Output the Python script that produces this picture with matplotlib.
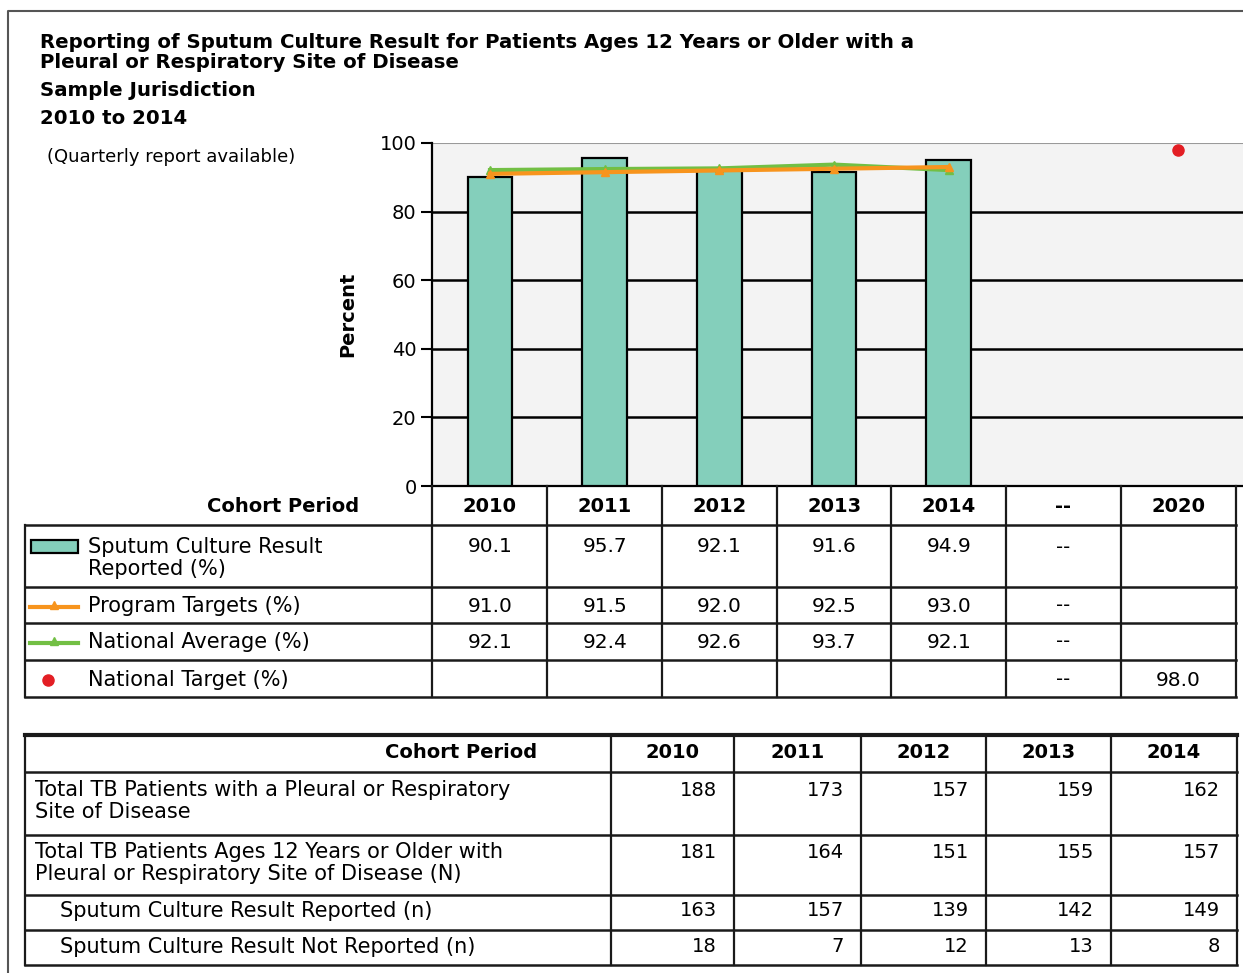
import numpy as np
import matplotlib.pyplot as plt
import matplotlib.transforms as mtransforms
from matplotlib.patches import Rectangle

plt.rcParams['font.family'] = ['DejaVu Sans']

# chart data
periods = ['2010', '2011', '2012', '2013', '2014', '--', '2020']
reported_pct = [90.1, 95.7, 92.1, 91.6, 94.9]
program_targets = [91.0, 91.5, 92.0, 92.5, 93.0]
national_avg = [92.1, 92.4, 92.6, 93.7, 92.1]
national_target = 98.0

# lower table data
cohort_years = ['2010', '2011', '2012', '2013', '2014']
total_pleural_resp = [188, 173, 157, 159, 162]
total_12_older = [181, 164, 151, 155, 157]
culture_reported = [163, 157, 139, 142, 149]
culture_not_reported = [18, 7, 12, 13, 8]

TEAL = '#84cfbb'
ORANGE = '#f7941d'
GREEN = '#72bf44'
RED = '#e31e24'
FS = 14      # bold headers / numbers
LS = 15      # row labels
TS = 14.2    # title size

W, H = 1243, 973
fig = plt.figure(figsize=(W / 100, H / 100), dpi=100)

# ---- bar chart ----
ax = fig.add_axes([432 / W, 1 - 486 / H, (W - 432) / W, (486 - 143) / H])
ax.set_facecolor('#f3f3f3')
x = np.arange(len(reported_pct))
ax.bar(x, reported_pct, width=0.39, color=TEAL, edgecolor='black', linewidth=1.6, zorder=3)
ax.plot(x, national_avg, color=GREEN, lw=3, marker='^', ms=6, zorder=4)
ax.plot(x, program_targets, color=ORANGE, lw=3, marker='^', ms=6, zorder=5)
ax.plot([periods.index('2020')], [national_target], 'o', color=RED, ms=8, zorder=5)

ax.set_xlim((432 - 490) / 114.7, (W - 490) / 114.7)
ax.set_ylim(0, 100)
ax.set_yticks([0, 20, 40, 60, 80, 100])
for yv in [20, 40, 60, 80]:
    ax.axhline(yv, color='black', lw=1.8, zorder=1)
ax.axhline(100, color='#9a9a9a', lw=1.5, zorder=1)
ax.set_xticks([])
for s in ['top', 'right']:
    ax.spines[s].set_visible(False)
ax.spines['left'].set_linewidth(1.6)
ax.spines['bottom'].set_linewidth(1.6)
ax.tick_params(axis='y', length=8, width=1.5, labelsize=14, pad=3)
ax.set_ylabel('Percent', fontsize=14, fontweight='bold', labelpad=16)

# ---- overlay in pixel coordinates ----
ov = fig.add_axes([0, 0, 1, 1], facecolor='none')
ov.set_xlim(0, W)
ov.set_ylim(H, 0)
ov.axis('off')
mix = mtransforms.blended_transform_factory(ax.transData, ov.transData)

# outer frame
ov.plot([8, 8, W], [H, 11, 11], color='#555555', lw=1.5)

# titles
ov.text(40, 42, 'Reporting of Sputum Culture Result for Patients Ages 12 Years or Older with a',
        fontsize=TS, fontweight='bold', va='center')
ov.text(40, 63, 'Pleural or Respiratory Site of Disease', fontsize=TS, fontweight='bold', va='center')
ov.text(40, 91, 'Sample Jurisdiction', fontsize=TS, fontweight='bold', va='center')
ov.text(40, 119, '2010 to 2014', fontsize=TS, fontweight='bold', va='center')
ov.text(47, 157, '(Quarterly report available)', fontsize=13, va='center')

# ---- table 1 (data table under chart) ----
lc = '#1a1a1a'
ov.plot([432, 432], [486, 697], color=lc, lw=1.6)
for i in range(len(periods)):
    ov.plot([i + 0.5, i + 0.5], [486, 697], color=lc, lw=1.6, transform=mix)
for yy in [525, 587, 623, 660, 697]:
    ov.plot([25, 1236], [yy, yy], color=lc, lw=1.8)
ov.plot([25, 25], [525, 697], color=lc, lw=1.6)

ov.text(283, 507, 'Cohort Period', fontsize=FS, fontweight='bold', ha='center', va='center')
for i, p in enumerate(periods):
    ov.text(i, 507, p, fontsize=FS, fontweight='bold', ha='center', va='center', transform=mix)

row_y = [547, 606, 642, 680]
ov.text(88, 547, 'Sputum Culture Result', fontsize=LS, va='center')
ov.text(88, 569, 'Reported (%)', fontsize=LS, va='center')
ov.text(88, 606, 'Program Targets (%)', fontsize=LS, va='center')
ov.text(88, 642, 'National Average (%)', fontsize=LS, va='center')
ov.text(88, 680, 'National Target (%)', fontsize=LS, va='center')

ov.add_patch(Rectangle((31, 540), 47, 13, facecolor=TEAL, edgecolor='black', lw=1.6))
ov.plot([30, 78], [607, 607], color=ORANGE, lw=3)
ov.plot([54], [605], marker='^', color=ORANGE, ms=6)
ov.plot([30, 78], [643, 643], color=GREEN, lw=3)
ov.plot([54], [641], marker='^', color=GREEN, ms=6)
ov.plot([48], [680], 'o', color=RED, ms=8)

series = [reported_pct, program_targets, national_avg]
for r, vals in enumerate(series):
    for i, v in enumerate(vals):
        ov.text(i, row_y[r], f'{v:.1f}', fontsize=14.5, ha='center', va='center', transform=mix)
    ov.text(periods.index('--'), row_y[r], '--', fontsize=FS, ha='center', va='center', transform=mix)
ov.text(periods.index('--'), row_y[3], '--', fontsize=FS, ha='center', va='center', transform=mix)
ov.text(periods.index('2020'), row_y[3], f'{national_target:.1f}', fontsize=14.5,
        ha='center', va='center', transform=mix)

# ---- table 2 (counts) ----
col_edges = [25, 611, 734, 861, 986, 1111, 1237]
ov.plot([25, 1237], [735, 735], color=lc, lw=3)
for yy in [772, 835, 895, 930, 965]:
    ov.plot([25, 1237], [yy, yy], color=lc, lw=1.8)
for xx in col_edges:
    ov.plot([xx, xx], [735, 965], color=lc, lw=1.6)

ov.text(461, 753, 'Cohort Period', fontsize=FS, fontweight='bold', ha='center', va='center')
for i, yr in enumerate(cohort_years):
    ov.text((col_edges[i + 1] + col_edges[i + 2]) / 2, 753, yr, fontsize=FS,
            fontweight='bold', ha='center', va='center')

ov.text(35, 790, 'Total TB Patients with a Pleural or Respiratory', fontsize=LS, va='center')
ov.text(35, 812, 'Site of Disease', fontsize=LS, va='center')
ov.text(35, 852, 'Total TB Patients Ages 12 Years or Older with', fontsize=LS, va='center')
ov.text(35, 874, 'Pleural or Respiratory Site of Disease (N)', fontsize=LS, va='center')
ov.text(60, 911, 'Sputum Culture Result Reported (n)', fontsize=LS, va='center')
ov.text(60, 947, 'Sputum Culture Result Not Reported (n)', fontsize=LS, va='center')

count_rows = [(790, total_pleural_resp), (852, total_12_older),
              (911, culture_reported), (947, culture_not_reported)]
for yy, vals in count_rows:
    for i, v in enumerate(vals):
        ov.text(col_edges[i + 2] - 17, yy, str(v), fontsize=FS, ha='right', va='center')

fig.savefig('out.png', dpi=100)
